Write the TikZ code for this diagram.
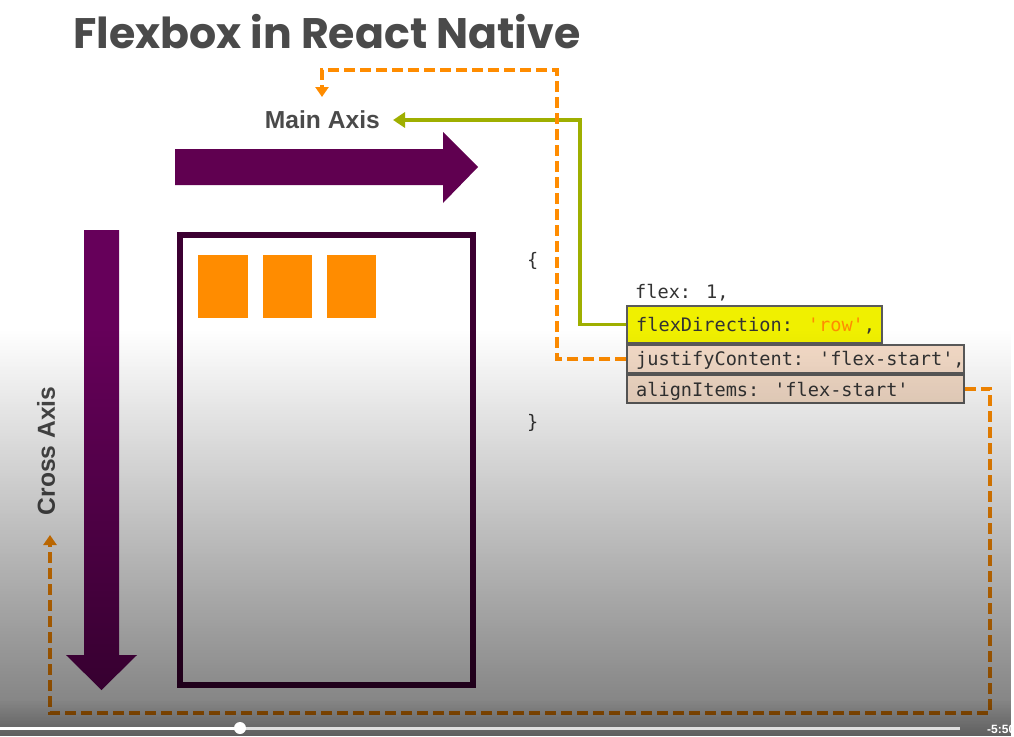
\documentclass[tikz,border=0pt]{standalone}
\usepackage{fontspec}
\usetikzlibrary{arrows.meta,fadings}
\newfontfamily\titlefont{Poppins}
\newfontfamily\labelfont{Liberation Sans}
\newfontfamily\codefont{DejaVu Sans Mono}
\definecolor{txt}{HTML}{4A4A4A}
\definecolor{purp}{HTML}{600050}
\definecolor{purpv}{HTML}{66005A}
\definecolor{boxborder}{HTML}{3C0032}
\definecolor{orng}{HTML}{FF8C00}
\definecolor{grn}{HTML}{9FAF00}
\definecolor{yel}{HTML}{F0F000}
\definecolor{peach}{HTML}{F5DCC8}
\definecolor{codeborder}{HTML}{5A5A5A}
\definecolor{codetxt}{HTML}{333333}
\tikzfading[name=darken, top color=transparent!100, bottom color=transparent!0]
\begin{document}
\begin{tikzpicture}[x=1pt,y=-1pt,
  codebox/.style={draw=codeborder, line width=1.6pt, anchor=north west, inner sep=0pt},
  codetext/.style={anchor=base west, inner sep=0pt, text=codetxt, font=\codefont\fontsize{18.6}{20}\selectfont},
  axislabel/.style={inner sep=0pt, text=txt, font=\labelfont\bfseries\fontsize{24.6}{26}\selectfont},
  orangeline/.style={draw=orng, line width=3.4pt, dash pattern=on 11pt off 5pt, -{Triangle[length=10pt,width=13pt]}},
  greenline/.style={draw=grn, line width=3.4pt, -{Triangle[length=12pt,width=15pt]}},
  item/.style={fill=orng}
]
\useasboundingbox (0,0) rectangle (1014,736);
\fill[white] (0,0) rectangle (1014,736);

% title
\node[anchor=base west, inner sep=0pt, text=txt] (title) at (73,48)
  {\resizebox{507pt}{!}{\titlefont\bfseries Flexbox in React Native}};

% main axis arrow
\fill[purp] (175,149) -- (443,149) -- (443,132) -- (478,167) -- (443,203) -- (443,185) -- (175,185) -- cycle;
% cross axis arrow
\fill[purpv] (84,230) -- (119,230) -- (119,655) -- (137,655) -- (101.5,690) -- (66,655) -- (84,655) -- cycle;

% container
\draw[boxborder, line width=6pt] (180,235) rectangle (473,685);
\fill[item] (198,255) rectangle (248,318);
\fill[item] (263,255) rectangle (312,318);
\fill[item] (327,255) rectangle (376,318);

% labels
\node[axislabel, anchor=east, inner xsep=13pt] (ma) at (393,120) {Main Axis};
\node[axislabel, rotate=90] (ca) at (46,451) {Cross Axis};
\coordinate (mtip) at (322,97);
\coordinate (ctip) at (50,535);

% code
\node[codetext] (ob) at (527,266) {\{};
\node[codetext] (fx) at (635,298) {flex: 1,};
\node[codebox, fill=yel, minimum width=255pt, minimum height=37pt] (fd) at (626,305) {};
\node[codetext] (fdt) at (636,331) {flexDirection: \textcolor{orng}{'row'},};
\node[codebox, fill=peach, minimum width=337pt, minimum height=28pt] (jc) at (626,344) {};
\node[codetext] (jct) at (636,365) {justifyContent: 'flex-start',};
\node[codebox, fill=peach, minimum width=337pt, minimum height=28pt] (ai) at (626,374) {};
\node[codetext] (ait) at (636,396) {alignItems: 'flex-start'};
\node[codetext] (cb) at (527,428) {\}};

% connectors
\draw[greenline] (fd.west) -| (580,120) -- (ma.east);
\draw[orangeline] (jc.west) -| (557,70) -| (mtip);
\draw[orangeline] (ai.east) -| (990,713) -| (ctip);

% video-like darkening gradient
\fill[black, fill opacity=0.52, path fading=darken] (0,330) rectangle (1014,736);
\fill[black, fill opacity=0.22, path fading=darken] (0,700) rectangle (1014,736);

% player bar
\draw[white!75!gray, line width=3pt] (240,728) -- (960,728);
\draw[white, line width=3pt] (0,728) -- (240,728);
\fill[white] (240,728) circle (6pt);
\node[anchor=base west, inner sep=0pt, text=white, font=\labelfont\bfseries\fontsize{12}{13}\selectfont] (time) at (987,733) {-5:50};
\end{tikzpicture}
\end{document}
